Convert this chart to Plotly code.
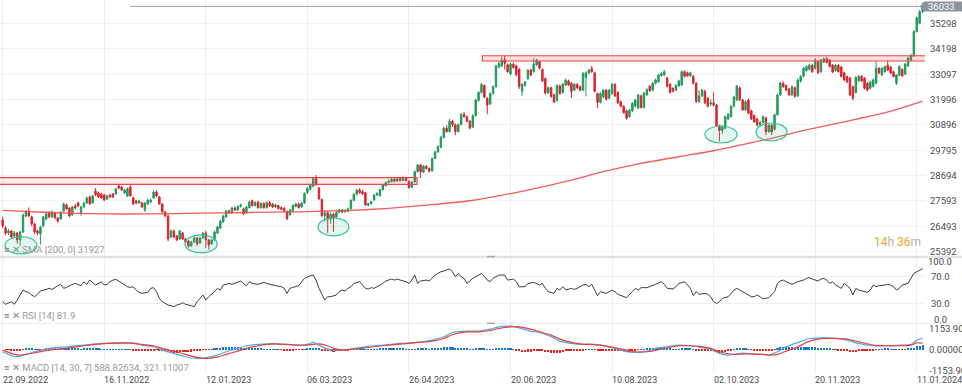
import plotly.graph_objects as go
import pandas as pd

# ---------------- data ----------------
open_ = [26767,26420,26203,26290,26073,26203,25900,26246,26940,27114,26900,26593,26290,26160,26507,26810,27070,26900,27070,26854,
26810,27157,27417,27287,26984,27374,27504,27080,27330,27504,27764,27504,28025,27938,27894,27851,27678,27851,27894,27894,
28241,28198,27938,27800,28200,27721,27590,27504,27504,27200,27461,27547,27721,27981,27764,27461,27114,26940,26030,26290,
26073,25943,26203,25943,25856,25639,25813,25986,25770,25986,26203,25900,25726,25900,26203,26420,26680,26900,27157,27070,
27287,27200,27350,27250,27070,27300,27600,27390,27540,27300,27480,27300,27520,27450,27330,27390,27300,27280,27130,26990,
27150,27350,27460,27330,27500,27950,28100,28230,28600,28150,27650,26950,27080,26800,27020,26900,27100,27200,27120,27150,
27250,27620,27880,28070,28000,27950,27400,27480,27630,27850,27820,28080,28250,28390,28430,28530,28450,28560,28480,28600,
28450,28180,28420,28860,29150,28850,29100,29000,28900,29430,29720,29920,30350,30750,30600,31050,30900,30600,30900,31350,
31250,31050,30800,31300,31950,32300,32600,32050,31800,32250,32550,33400,33450,33720,33500,33100,33520,33450,33300,32350,
32600,32900,33270,33200,33500,33620,33300,32900,32280,32500,32200,31950,32580,32300,32620,32800,32700,32400,32650,32550,
32400,32950,33150,33330,33150,32250,31870,32100,32400,32050,32250,32650,32300,31900,31700,31500,31250,31500,31700,31620,
32150,31650,32200,32570,32400,32700,32760,33020,33060,32930,32650,32480,32400,32580,32620,33200,33150,33020,33000,32700,
31900,32150,32350,32050,31800,31850,31750,30850,30650,30750,31150,31250,31700,31970,32500,31970,31540,31970,31500,31300,
31150,30880,31000,31200,30600,30880,30700,31330,32190,32700,32600,32450,32190,32500,32150,32780,33000,33250,33300,33480,
33340,33620,33200,33620,33760,33700,33480,33250,33480,33400,33150,32990,32930,32550,32300,32800,33000,32920,32700,32480,
32560,32700,33350,33060,33200,33480,33400,33200,32700,33050,33300,33100,33450,33700,33880,34940,35300,35800]
high = [26900,26500,26380,26330,26300,26250,26300,27050,27200,27310,26950,26650,26350,26520,26950,27100,27150,27180,27120,26900,
27150,27520,27480,27320,27380,27450,27560,27380,27550,27780,27820,27850,28150,28000,27950,27900,27860,27900,27940,28160,
28330,28250,28120,28180,28330,27780,27640,27650,27560,27550,27680,27690,28050,28060,27800,27500,27160,27000,26350,26350,
26120,26330,26250,25990,25900,25860,26030,26030,26030,26250,26300,25950,25950,26300,26520,26780,27000,27200,27220,27340,
27350,27400,27480,27300,27380,27600,27650,27580,27600,27540,27530,27570,27600,27500,27480,27430,27350,27320,27180,27250,
27450,27510,27520,27550,27970,28200,28340,28600,28720,28200,27700,27200,27150,27100,27080,27150,27260,27250,27230,27300,
27660,27930,28120,28150,28060,27990,27520,27600,27900,27970,28120,28330,28430,28520,28590,28580,28620,28610,28660,28640,
28480,28450,28920,29200,29200,29150,29150,29050,29480,29770,30000,30420,30820,30880,31150,31100,30950,30960,31400,31450,
31300,31100,31350,32020,32350,32700,32650,32100,32300,32600,33500,33620,33860,33900,33560,33600,33600,33500,33350,32700,
32800,33300,33330,33780,33760,33680,33350,32950,32550,32550,32250,32650,32650,32700,32900,32860,32750,32700,32700,32600,
33180,33220,33320,33450,33200,32300,32300,32450,32450,32450,32700,32700,32350,31950,31750,31550,31580,31880,32020,32240,
32200,32320,32480,32620,32750,32900,33100,33180,33280,32980,32700,32520,32650,32850,33250,33260,33200,33200,33050,32750,
32400,32450,32420,32100,32000,32300,31800,30900,30880,31300,31400,31750,32150,32620,32560,32020,31950,32030,31550,31350,
31200,31080,31300,31250,30950,30920,31380,32250,32780,32780,32650,32500,32600,32550,32900,33050,33400,33480,33550,33550,
33790,33680,33750,33820,33830,33760,33530,33540,33530,33450,33200,33030,32980,32600,33000,33050,33050,32970,32750,32800,
32900,33660,33400,33400,33470,33660,33450,33250,33100,33470,33350,33580,33850,33980,35000,35600,35880,36180]
low = [26420,26100,26120,25950,25980,25750,25650,26200,26880,26900,26500,26150,26100,25700,26450,26750,26850,26850,26800,26650,
26780,27100,27200,26880,26950,27230,27330,26950,27290,27460,27420,27480,27800,27720,27680,27590,27640,27720,27720,27860,
28100,28020,27900,27760,27780,27420,27450,27460,27290,27114,27420,27500,27680,27760,27420,27070,26880,25850,25980,25960,
25850,25900,25900,25750,25560,25600,25780,25650,25730,25950,25550,25480,25680,25860,26150,26380,26640,26860,27030,27040,
27150,27150,27300,26980,27030,27260,27350,27350,27260,27260,27260,27260,27330,27290,27290,27220,27190,27120,26760,26950,
27110,27320,27260,27290,27460,27900,28050,28190,28250,27640,26900,26700,26200,26600,26250,26850,27050,27060,27080,27100,
27220,27580,27840,27900,27850,27380,27350,27430,27600,27800,27780,28040,28220,28350,28400,28400,28420,28430,28450,28430,
28120,28150,28380,28820,28580,28800,28950,28820,28860,29400,29680,29880,30300,30550,30560,30800,30450,30560,30860,31200,
31000,30700,30760,31250,31900,32250,32050,31350,31750,32200,32500,33350,33400,33300,33150,33050,33330,33000,32450,32150,
32550,32850,33000,33150,33450,33300,32750,32200,32230,32070,31830,31900,32200,32250,32580,32580,32060,32350,32450,32350,
32350,32130,33100,33150,32300,31620,31820,32050,31950,32000,32200,32100,31800,31650,31380,31120,31200,31450,31650,31580,
31600,31600,32150,32320,32350,32650,32720,32980,33020,32520,32250,32300,32350,32550,32580,32950,32980,32980,32650,31850,
31850,32100,31800,31650,31700,31700,30800,30180,30500,30700,31100,31200,31650,31930,31930,31500,31500,31350,31100,30980,
30830,30800,30950,30450,30550,30450,30650,31300,32150,32500,32350,32150,32150,32080,32100,32730,32950,33200,33250,33150,
33300,33100,33150,33580,33560,33380,33140,33200,33160,32950,32800,32700,32150,31950,32250,32750,32750,32430,32350,32430,
32520,32650,33100,33000,33150,33230,33100,32950,32620,33000,32980,33050,33400,33650,33850,34900,35250,35750]
close = [26507,26203,26290,26030,26203,25900,26246,26984,27114,26940,26593,26246,26203,26460,26900,27027,26900,27114,26854,26720,
27114,27461,27244,26940,27330,27287,27374,27330,27504,27721,27461,27808,27851,27764,27721,27634,27808,27764,27764,28111,
28155,28068,28068,28120,27820,27461,27504,27590,27330,27504,27634,27634,27981,27808,27461,27114,26940,25943,26290,26030,
25900,26290,25943,25813,25639,25813,25986,25726,25986,26203,25900,25683,25900,26246,26463,26720,26940,27157,27070,27287,
27200,27350,27420,27030,27330,27540,27390,27520,27300,27480,27300,27520,27380,27330,27430,27260,27230,27160,26820,27200,
27400,27460,27300,27500,27920,28130,28280,28550,28300,27680,26950,27080,26800,27020,26850,27100,27200,27120,27180,27250,
27620,27880,28060,27950,27900,27420,27480,27560,27850,27920,28080,28290,28390,28450,28530,28450,28560,28480,28600,28480,
28180,28400,28860,29150,28850,29100,29000,28880,29430,29720,29950,30350,30750,30600,31050,30900,30600,30900,31350,31250,
31050,30750,31300,31970,32300,32650,32100,31750,32250,32550,33450,33560,33700,33560,33200,33530,33380,33070,32550,32650,
32750,33270,33060,33530,33700,33360,32800,32280,32500,32120,31880,32600,32250,32660,32840,32620,32350,32660,32500,32400,
33130,33150,33270,33190,32350,31870,32250,32400,32000,32400,32650,32150,31850,31700,31420,31180,31530,31830,31970,32190,
31650,32270,32420,32370,32700,32840,33060,33130,33200,32570,32300,32350,32600,32800,33200,33000,33020,33150,32700,31900,
32150,32400,31850,31700,31850,31750,30850,30650,30800,31250,31350,31700,32100,32580,31980,31540,31900,31400,31150,31030,
30880,31000,31250,30600,30880,30580,31330,32190,32700,32550,32400,32190,32550,32130,32840,32990,33350,33420,33480,33200,
33700,33150,33700,33760,33600,33420,33180,33480,33200,32990,32840,32760,32190,32050,32950,33000,32800,32480,32400,32760,
32840,33350,33140,33350,33420,33270,33140,32990,33060,33420,33020,33530,33790,33900,34940,35530,35800,36033]

date_label_bars = [0, 35, 70, 105, 140, 175, 210, 245, 280, 315]
date_labels = ["22.09.2022", "16.11.2022", "12.01.2023", "06.03.2023", "26.04.2023",
               "20.06.2023", "10.08.2023", "02.10.2023", "20.11.2023", "11.01.2024"]
price_ticks = [25392, 26493, 27593, 28694, 29795, 30896, 31996, 33097, 34198, 35298]
last_price = 36033

sma_bars = [0, 16, 34, 51, 68, 85, 102, 120, 133, 147, 161, 178, 196, 207, 220, 233, 245, 255, 265, 275, 292, 300, 309, 317]
sma_values = [27180, 27090, 27030, 27030, 27060, 27090, 27120, 27180, 27270, 27420, 27600, 27990, 28500, 28860,
              29220, 29510, 29770, 30040, 30310, 30620, 31080, 31300, 31600, 31927]

rsi_points = [
    (0,32.5),(1,28.6),(3,32.5),(4,28.6),(5,35),(7,50),(8,47.6),(9,46.6),(10,42.6),(11,40),(12,43.6),(13,48.6),
    (15,51),(16,52.6),(17,51),(18,54),(19,56.6),(20,58.6),(21,52.6),(22,54),(23,56.6),(24,58.6),(25,60),(27,56.6),
    (28,62.6),(29,58.6),(30,65),(31,61.6),(32,57.6),(34,62.6),(35,57.6),(36,58.6),(37,62.6),(38,65),(39,66),(40,63.6),
    (42,58.6),(43,55),(44,54),(45,55),(46,50),(47,46.6),(48,45),(50,46.6),(51,52.6),(52,53.6),(53,47.6),(54,37.6),
    (55,32.5),(57,27.5),(58,26.5),(59,25),(60,27.5),(61,28.6),(62,31),(63,28.6),(65,26.5),(66,25),(67,32.5),(68,37.6),
    (69,42.6),(70,35),(71,40),(73,47.6),(74,52.6),(75,50),(76,57.6),(77,58.6),(78,60),(79,58.6),(81,62.6),(82,63.6),
    (83,60),(84,56.6),(85,62.6),(86,60),(88,58.6),(89,60),(90,61.6),(91,60),(92,58.6),(93,57.6),(94,56.6),(96,55),
    (97,52.6),(98,45),(99,52.6),(100,54),(101,55),(102,56.6),(104,67.6),(105,70),(106,71.6),(107,72.6),(108,65),
    (109,52.6),(110,42.6),(111,35),(112,40),(113,40),(115,42.6),(116,47.6),(117,50),(118,48.6),(119,52.6),(120,55),
    (121,60),(123,62.6),(124,57.6),(125,52.6),(126,51.6),(127,53.6),(128,52.6),(129,55),(131,60),(132,63.6),(133,65),
    (134,66.6),(135,65),(136,66.6),(137,65),(139,62.6),(140,60),(141,65),(142,72.6),(143,60),(144,63.6),(146,65),
    (147,63.6),(148,67.6),(149,72.6),(150,75),(151,77.6),(152,78.6),(154,81.7),(155,77.6),(156,70),(157,75),(158,70),
    (159,67.6),(160,60),(162,67.6),(163,70),(164,72.6),(165,75),(166,70),(167,65),(168,62.6),(169,67.6),(171,72.6),
    (173,72.6),(174,65),(176,66.6),(177,62.6),(178,55),(180,55),(181,60),(183,61.6),(185,57.6),(186,60),(187,52.6),
    (188,47.6),(190,45),(191,52.6),(192,50),(193,55),(194,50),(196,52.6),(197,51),(198,52.6),(200,57.6),(201,58.6),
    (202,55),(203,58.6),(204,50),(205,41.6),(206,47.6),(208,45),(210,50),(211,47.6),(212,43.6),(214,40),(215,38.6),
    (217,47.6),(218,52.6),(219,50),(220,53.6),(222,53.6),(223,55),(225,58.6),(227,62.6),(228,58.6),(229,52.6),
    (231,51.6),(232,55),(233,60),(235,62.6),(236,57.6),(237,52.6),(238,41.6),(239,47.6),(240,43.6),(242,45),
    (243,43.6),(244,40),(245,32.5),(246,30),(247,32.5),(248,37.6),(250,40),(251,45),(252,50),(253,52.6),(254,50),
    (255,47.6),(256,45),(258,40),(259,40),(260,42.6),(261,40),(262,36.6),(263,37.6),(264,38.6),(266,47.6),(267,60),
    (268,63.6),(269,65),(270,62.6),(271,60),(272,58.6),(274,62.6),(275,63.6),(276,65),(277,67.6),(278,68.6),
    (279,66.6),(281,63.6),(282,66.6),(283,67.6),(284,65),(285,60),(286,62.6),(287,57.6),(289,52.6),(290,60),
    (291,56.6),(292,52.6),(293,42.6),(294,52.6),(295,50),(297,47.6),(298,46.6),(299,50),(300,57.6),(301,55),
    (302,56.6),(304,57.6),(305,58.6),(306,57.6),(307,55),(308,50),(309,52.6),(310,57.6),(312,60),(313,67.6),
    (314,75),(315,77.6),(316,80),(317,81.9)]
rsi_bars = [p[0] for p in rsi_points]
rsi_values = [p[1] for p in rsi_points]

# MACD line and signal line: (bar, macd, signal)
macd_points = [
    (0,-145,-54),(4,-416,-290),(6,-380,-325),(11,-145,-200),(16,36,-54),(22,126,36),(28,217,181),(34,307,289),
    (39,343,325),(45,307,325),(48,217,253),(52,126,181),(55,-54,36),(59,-235,-108),(63,-416,-290),(67,-506,-452),
    (70,-470,-506),(74,-325,-434),(77,-145,-290),(81,36,-108),(84,181,36),(88,253,181),(91,289,253),(94,289,289),
    (98,253,253),(101,217,217),(105,253,217),(107,361,253),(109,217,289),(112,0,181),(114,-54,36),(117,-54,-54),
    (121,36,0),(125,126,72),(131,217,181),(137,307,271),(143,361,361),(148,487,433),(152,668,577),(155,902,794),
    (160,974,938),(164,975,938),(168,1083,1010),(171,1210,1119),(175,1245,1210),(178,1155,1210),(182,974,1083),
    (185,902,938),(189,668,758),(192,433,541),(196,307,361),(199,253,289),(202,271,253),(206,217,217),(210,72,108),
    (215,-145,-54),(218,-181,-145),(222,-108,-145),(225,36,-72),(229,126,72),(233,217,181),(237,181,181),
    (240,108,145),(244,-18,36),(247,-235,-145),(250,-325,-253),(252,-290,-290),(255,-217,-271),(259,-253,-271),
    (262,-290,-290),(264,-325,-325),(267,-145,-290),(270,126,-108),(274,361,126),(278,578,433),(283,614,578),
    (287,578,578),(291,487,541),(295,307,397),(300,181,217),(305,181,181),(309,217,181),(313,253,217),
    (315,487,343),(317,588.83,321.11)]
macd_bars = [p[0] for p in macd_points]
macd_values = [p[1] for p in macd_points]
signal_values = [p[2] for p in macd_points]

# zones drawn on the chart: (first bar, last bar, low price, high price)
resistance_zone = (165.3, 330.0, 33663, 33892)
support_zone = (-2.0, 142.8, 28315, 28600)
ellipse_zones = [(0.8, 11.8, 25292, 26043), (62.8, 73.9, 25336, 26116), (108.7, 119.3, 26073, 26854),
                 (242.0, 253.1, 30106, 30844), (259.6, 270.3, 30193, 30974)]

macd_fast, macd_slow, macd_sig = 14, 30, 7

# histogram: MACD(14, 30, 7) minus its signal, from the closes
c = pd.Series(close, dtype=float)
m = c.ewm(span=macd_fast, adjust=False).mean() - c.ewm(span=macd_slow, adjust=False).mean()
hist = m - m.ewm(span=macd_sig, adjust=False).mean()

bars = list(range(len(close)))

# ---------------- figure ----------------
GREEN = "#1f9a5c"
RED = "#d9232d"
FONT = "Roboto, Arial, sans-serif"
LABEL = "#4d4d4d"
W, H = 962, 388
ML, MR, MT, MB = 0, 37, 0, 16
PW = W - ML - MR
PH = H - MT - MB

def py(px):  # paper y from pixel row
    return (PH - (px - MT)) / PH

def pxx(px):  # paper x from pixel column
    return (px - ML) / PW

fig = go.Figure()
fig.add_trace(go.Candlestick(
    x=bars, open=open_, high=high, low=low, close=close,
    increasing=dict(line=dict(color=GREEN, width=1), fillcolor=GREEN),
    decreasing=dict(line=dict(color=RED, width=1), fillcolor=RED),
    whiskerwidth=0, xaxis="x", yaxis="y", hoverinfo="skip"))
fig.add_trace(go.Scatter(x=sma_bars, y=sma_values, mode="lines",
                         line=dict(color="rgba(238,85,80,0.95)", width=1.3, shape="spline", smoothing=0.6),
                         xaxis="x", yaxis="y", hoverinfo="skip"))
fig.add_trace(go.Scatter(x=rsi_bars, y=rsi_values, mode="lines", line=dict(color="#3d3d3d", width=1),
                         xaxis="x2", yaxis="y2", hoverinfo="skip"))
fig.add_trace(go.Bar(x=bars, y=hist, width=0.72,
                     marker=dict(color=["#1a78c8" if v >= 0 else "#e3231b" for v in hist], line=dict(width=0)),
                     xaxis="x3", yaxis="y3", hoverinfo="skip"))
fig.add_trace(go.Scatter(x=macd_bars, y=macd_values, mode="lines",
                         line=dict(color="#4aa8ec", width=1.2, shape="spline", smoothing=0.5),
                         xaxis="x3", yaxis="y3", hoverinfo="skip"))
fig.add_trace(go.Scatter(x=macd_bars, y=signal_values, mode="lines",
                         line=dict(color="#e8403a", width=1.2, shape="spline", smoothing=0.5),
                         xaxis="x3", yaxis="y3", hoverinfo="skip"))

first_grid_px, grid_step_px = 2.7, 101.56
px_per_bar = grid_step_px / (date_label_bars[1] - date_label_bars[0])
x0 = -first_grid_px / px_per_bar
xr = [x0, x0 + PW / px_per_bar]

grid = "#efefef"
xcommon = dict(range=xr, tickvals=date_label_bars, showgrid=True, gridcolor=grid, gridwidth=1,
               zeroline=False, showline=False, ticks="", fixedrange=True, automargin=False,
               showticklabels=False, domain=[0, 1])
fig.update_layout(
    width=W, height=H, margin=dict(l=ML, r=MR, t=MT, b=MB, autoexpand=False),
    paper_bgcolor="white", plot_bgcolor="white", showlegend=False, hovermode=False,
    font=dict(family=FONT, size=9.5, color=LABEL),
    xaxis=dict(anchor="y", rangeslider=dict(visible=False), **xcommon),
    xaxis2=dict(anchor="y2", matches="x", **xcommon),
    xaxis3=dict(anchor="y3", matches="x", **xcommon),
    yaxis=dict(domain=[py(257), 1], anchor="x", side="right", range=[25160, 36310], tickvals=price_ticks,
               showticklabels=False, showgrid=True, gridcolor="#f3f3f3", zeroline=False, ticks="",
               fixedrange=True, automargin=False),
    yaxis2=dict(domain=[py(323), py(258)], anchor="x2", side="right", range=[0.5, 98.2], tickvals=[30, 70],
                showticklabels=False, showgrid=True, gridcolor="#f0f0f0", zeroline=False, fixedrange=True,
                automargin=False),
    yaxis3=dict(domain=[0, py(323.5)], anchor="x3", side="right", range=[-1246, 1392],
                tickvals=[-1153.9, 0, 1153.9], showticklabels=False, showgrid=False, zeroline=False,
                fixedrange=True, automargin=False),
    bargap=0,
)

shapes = []
r0, r1, rl, rh = resistance_zone
shapes.append(dict(type="rect", xref="x", yref="y", x0=r0, x1=r1, y0=rl, y1=rh,
                   line=dict(color="#e8474a", width=1.2), fillcolor="rgba(240,80,80,0.2)", layer="above"))
s0, s1, sl, sh = support_zone
shapes.append(dict(type="rect", xref="x", yref="y", x0=s0, x1=s1, y0=sl, y1=sh,
                   line=dict(color="#e8474a", width=1.2), fillcolor="rgba(240,80,80,0.1)", layer="above"))
for e0, e1, el, eh in ellipse_zones:
    shapes.append(dict(type="circle", xref="x", yref="y", x0=e0, x1=e1, y0=el, y1=eh,
                       line=dict(color="#33c293", width=1.2), fillcolor="rgba(60,200,150,0.14)", layer="above"))
shapes.append(dict(type="line", xref="paper", yref="y", x0=pxx(130), x1=1, y0=last_price, y1=last_price,
                   line=dict(color="#9aa3ab", width=1)))
shapes.append(dict(type="rect", xref="paper", yref="paper", x0=pxx(924), x1=pxx(962), y0=py(11.5), y1=py(1.5),
                   line=dict(width=0), fillcolor="#8b949c"))
shapes.append(dict(type="path", xref="paper", yref="paper",
                   path=f"M {pxx(920)} {py(6.5)} L {pxx(924)} {py(1.5)} L {pxx(924)} {py(11.5)} Z",
                   line=dict(width=0), fillcolor="#8b949c"))
shapes.append(dict(type="line", xref="paper", yref="paper", x0=0, x1=pxx(962), y0=py(257), y1=py(257),
                   line=dict(color="#e3e3e3", width=2.5)))
shapes.append(dict(type="line", xref="paper", yref="paper", x0=0, x1=pxx(962), y0=py(323.3), y1=py(323.3),
                   line=dict(color="#ececec", width=1)))
for ypx in (256.5, 323.3):
    shapes.append(dict(type="line", xref="paper", yref="paper", x0=pxx(487), x1=pxx(495), y0=py(ypx), y1=py(ypx),
                       line=dict(color="#a8a8a8", width=1.5)))
fig.update_layout(shapes=shapes)

ann = []
for v in price_ticks:
    ann.append(dict(xref="paper", yref="y", x=pxx(928), y=v, text=str(v), showarrow=False,
                    font=dict(size=9.5, color=LABEL), xanchor="left", yanchor="middle"))
ann.append(dict(xref="paper", yref="paper", x=pxx(941), y=py(6.5), text=str(last_price), showarrow=False,
                font=dict(size=9.5, color="white"), xanchor="center", yanchor="middle"))
for lab, ypx in [("100.0", 261), ("70.0", 276.7), ("30.0", 303.3), ("0.0", 319)]:
    ann.append(dict(xref="paper", yref="paper", x=pxx(940), y=py(ypx), text=lab, showarrow=False,
                    font=dict(size=9.5, color=LABEL), xanchor="center", yanchor="middle"))
for lab, ypx in [("1153.900", 328), ("0.000000", 349), ("-1153.900", 370)]:
    ann.append(dict(xref="paper", yref="paper", x=pxx(927), y=py(ypx), text=lab, showarrow=False,
                    font=dict(size=9.5, color=LABEL), xanchor="left", yanchor="middle"))
for b, lab in zip(date_label_bars, date_labels):
    ann.append(dict(xref="x3", yref="paper", x=b, y=py(380), text=lab, showarrow=False,
                    font=dict(size=9, color=LABEL), xanchor="left", yanchor="middle", xshift=-2))
ann.append(dict(xref="paper", yref="paper", x=pxx(923), y=py(242), showarrow=False, xanchor="right",
                yanchor="middle", font=dict(size=12, family=FONT),
                text='<span style="color:#f4a01c">14</span><span style="color:#b5b5b5">h </span>'
                     '<span style="color:#f4a01c">36</span><span style="color:#b5b5b5">m</span>'))
for txt, ypx in [("SMA [200, 0] 31927", 249), ("RSI [14] 81.9", 315.7),
                 ("MACD [14, 30, 7] 588.82634, 321.11007", 367.7)]:
    ann.append(dict(xref="paper", yref="paper", x=pxx(2), y=py(ypx), showarrow=False, xanchor="left",
                    yanchor="middle", font=dict(size=9.5, color="#9a9a9a"),
                    text='<span style="color:#8a8a8a">≡ ✕</span> ' + txt))
fig.update_layout(annotations=ann)

fig.write_html("out.html", config={"displayModeBar": False},
               post_script="document.body.style.margin='0';document.body.style.overflow='hidden';")
